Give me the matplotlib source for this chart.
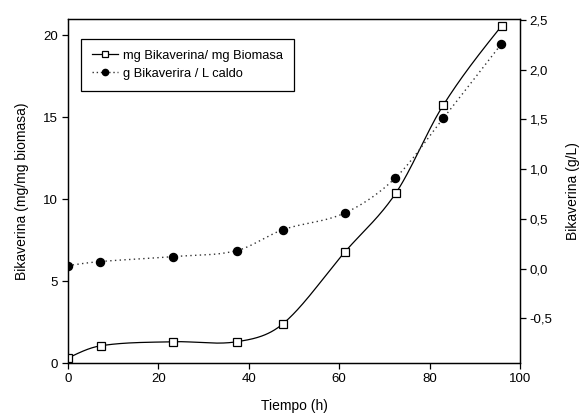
import numpy as np
import matplotlib
matplotlib.use("Agg")
import matplotlib.pyplot as plt
from matplotlib.ticker import FuncFormatter
from matplotlib.lines import Line2D

plt.rcParams['font.family'] = ['Liberation Sans', 'DejaVu Sans']

# Data
tiempo_mg = [0, 7.2, 23.2, 37.4, 47.5, 61.3, 72.6, 83.0, 96.0]
mg_bikaverina = [0.3, 1.05, 1.3, 1.3, 2.38, 6.79, 10.4, 15.73, 20.6]
tiempo_g = [0, 7.0, 23.2, 37.3, 47.5, 61.3, 72.4, 83.0, 95.9]
g_bikaverina = [0.03, 0.07, 0.12, 0.18, 0.39, 0.56, 0.91, 1.51, 2.26]
x_ticks = [0, 20, 40, 60, 80, 100]
left_ticks = [0, 5, 10, 15, 20]
right_ticks = [-0.5, 0.0, 0.5, 1.0, 1.5, 2.0, 2.5]


def smooth_curve(x, y, n=400):
    """Cubic Hermite curve with Catmull-Rom style tangents."""
    x = np.asarray(x, float); y = np.asarray(y, float)
    h = np.diff(x); delta = np.diff(y) / h
    m = len(x); d = np.zeros(m)
    for k in range(1, m - 1):
        d[k] = (y[k + 1] - y[k - 1]) / (x[k + 1] - x[k - 1])
    d[0] = 1.5 * delta[0] - 0.5 * d[1]
    d[-1] = 1.5 * delta[-1] - 0.5 * d[-2]
    xs = np.linspace(x[0], x[-1], n)
    idx = np.clip(np.searchsorted(x, xs) - 1, 0, m - 2)
    t = (xs - x[idx]) / h[idx]
    h00 = 2 * t**3 - 3 * t**2 + 1; h10 = t**3 - 2 * t**2 + t
    h01 = -2 * t**3 + 3 * t**2; h11 = t**3 - t**2
    ys = h00 * y[idx] + h10 * h[idx] * d[idx] + h01 * y[idx + 1] + h11 * h[idx] * d[idx + 1]
    return xs, ys


fig = plt.figure(figsize=(5.87, 4.2), dpi=100)
ax = fig.add_axes([0.1158, 0.1357, 0.770, 0.819])
ax2 = ax.twinx()

xs, ys = smooth_curve(tiempo_mg, mg_bikaverina)
ax.plot(xs, ys, color='black', lw=0.9, zorder=2)
ax.plot(tiempo_mg, mg_bikaverina, ls='none', marker='s', ms=5.5, mfc='white',
        mec='black', mew=0.9, zorder=3)

xs2, ys2 = smooth_curve(tiempo_g, g_bikaverina)
ax2.plot(xs2, ys2, color='#333333', lw=1.0, ls=(0, (1, 2.4)), zorder=2)
ax2.plot(tiempo_g, g_bikaverina, ls='none', marker='o', ms=5.8, mfc='black',
         mec='black', zorder=3)

ax.set_xlim(0, 100)
ax.set_ylim(0, 21)
ax2.set_ylim(-0.95, 2.51)
ax.set_xticks(x_ticks)
ax.set_yticks(left_ticks)
ax2.set_yticks(right_ticks)
ax2.yaxis.set_major_formatter(FuncFormatter(lambda v, p: f"{v:.1f}".replace('.', ',')))

for a in (ax, ax2):
    a.tick_params(direction='out', length=4, width=0.9, labelsize=9.5, pad=3)
    for s in a.spines.values():
        s.set_linewidth(0.9)

ax.set_xlabel('Tiempo (h)', fontsize=10, labelpad=10)
ax.set_ylabel('Bikaverina (mg/mg biomasa)', fontsize=10, labelpad=10)
ax2.set_ylabel('Bikaverina (g/L)', fontsize=10, labelpad=10)

h1 = Line2D([], [], color='black', lw=0.9, marker='s', ms=4, mfc='white', mec='black', mew=0.9)
h2 = Line2D([], [], color='#333333', lw=1.0, ls=(0, (1, 2.0)), marker='o', ms=4.5,
            mfc='black', mec='black')
leg = ax.legend([h1, h2], ['mg Bikaverina/ mg Biomasa', 'g Bikaverira / L caldo'],
                loc='upper left', bbox_to_anchor=(0.029, 0.942), fancybox=False,
                edgecolor='black', framealpha=1, fontsize=9.3, handlelength=2.0,
                borderpad=0.85, labelspacing=0.45, handletextpad=0.4, borderaxespad=0)
leg.get_frame().set_linewidth(0.9)

fig.savefig('out.png', dpi=100)
